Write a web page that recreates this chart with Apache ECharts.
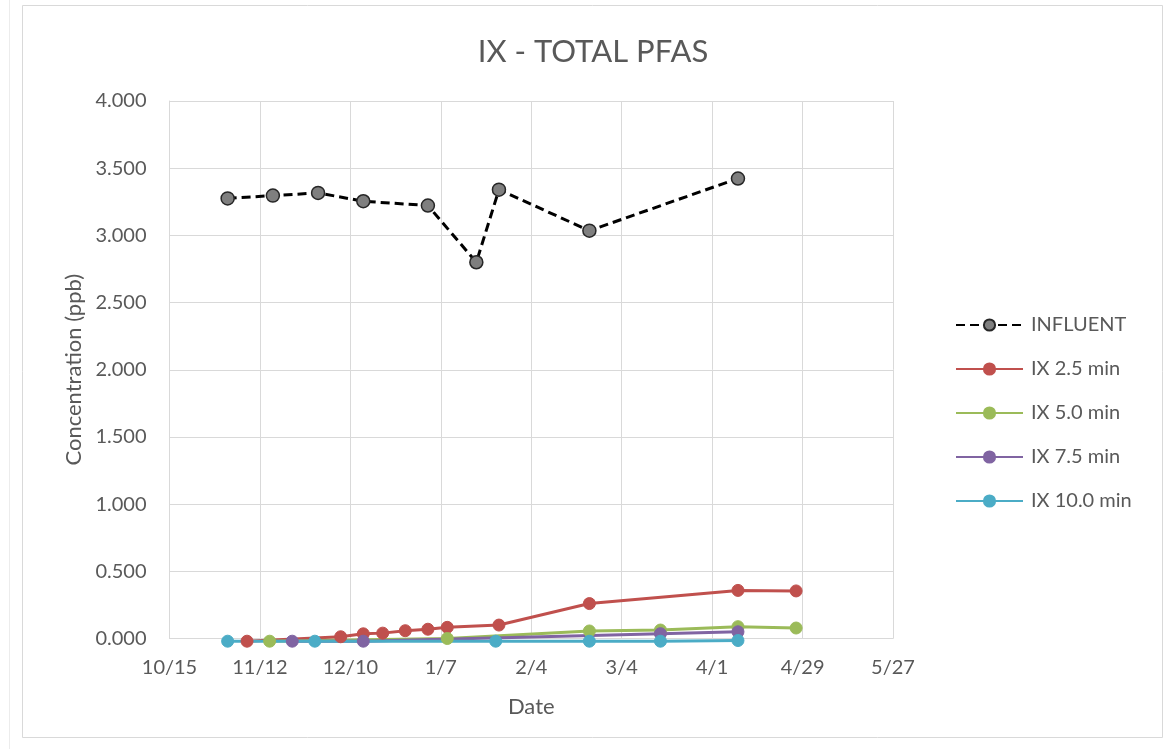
<!DOCTYPE html>
<html>
<head>
<meta charset="utf-8">
<title>IX - TOTAL PFAS</title>
<script src="https://cdn.jsdelivr.net/npm/echarts@6/dist/echarts.min.js"></script>
<style>
    html, body { margin: 0; padding: 0; background: #fff; }
    #chart { width: 1172px; height: 749px; }
</style>
</head>
<body>
<div id="chart"></div>
<script>
// axis starts 10/15, ticks every 28 days
const startDate = '2018-10-15';
const endDate = '2019-05-27';

const influentDates = ['2018-11-02', '2018-11-16', '2018-11-30', '2018-12-14', '2019-01-03',
                       '2019-01-18', '2019-01-25', '2019-02-22', '2019-04-09'];
const influentValues = [3.275, 3.296, 3.316, 3.254, 3.222, 2.800, 3.340, 3.035, 3.423];

const ix25Dates = ['2018-11-08', '2018-12-07', '2018-12-14', '2018-12-20', '2018-12-27',
                   '2019-01-03', '2019-01-09', '2019-01-25', '2019-02-22', '2019-04-09', '2019-04-27'];
const ix25Values = [-0.02, 0.013, 0.035, 0.04, 0.058, 0.069, 0.083, 0.10, 0.26, 0.358, 0.354];

const ix50Dates = ['2018-11-15', '2019-01-09', '2019-02-22', '2019-03-16', '2019-04-09', '2019-04-27'];
const ix50Values = [-0.02, 0.0, 0.056, 0.063, 0.088, 0.078];

const ix75Dates = ['2018-11-22', '2018-12-14', '2019-03-16', '2019-04-09'];
const ix75Values = [-0.02, -0.02, 0.036, 0.05];

const ix100Dates = ['2018-11-02', '2018-11-29', '2019-01-24', '2019-02-22', '2019-03-16', '2019-04-09'];
const ix100Values = [-0.02, -0.02, -0.02, -0.02, -0.02, -0.015];

const DAY = 86400000;
const t0 = Date.parse(startDate);

function toDay(d) {
    return Math.round((Date.parse(d) - t0) / DAY);
}

function pairs(dates, values) {
    return dates.map((d, i) => [toDay(d), values[i]]);
}

function dayLabel(v) {
    const dt = new Date(t0 + v * DAY);
    return (dt.getUTCMonth() + 1) + '/' + dt.getUTCDate();
}

const textColor = '#595959';
const gridColor = '#d9d9d9';
const font = 'Lato, "Open Sans", sans-serif';

function lineSeries(name, color, dates, values) {
    return {
        name: name,
        type: 'line',
        clip: false,
        data: pairs(dates, values),
        symbol: 'circle',
        symbolSize: 12,
        lineStyle: { color: color, width: 3 },
        itemStyle: { color: color, borderColor: color, borderWidth: 1 },
        emphasis: { disabled: true },
        animation: false
    };
}

const chart = echarts.init(document.getElementById('chart'));

const options = {
    backgroundColor: '#fff',
    textStyle: { fontFamily: font },
    title: {
        text: 'IX - TOTAL PFAS',
        left: 588,
        textAlign: 'center',
        top: 31,
        textStyle: { fontSize: 31, fontWeight: 'normal', color: textColor, fontFamily: font }
    },
    graphic: [
        {
            type: 'rect',
            shape: { x: 22.5, y: 5.5, width: 1140, height: 732 },
            style: { fill: 'none', stroke: gridColor, lineWidth: 1 },
            silent: true
        },
        {
            type: 'line',
            shape: { x1: 9.5, y1: 0, x2: 9.5, y2: 749 },
            style: { stroke: '#ececec', lineWidth: 1 },
            silent: true
        }
    ],
    legend: {
        orient: 'vertical',
        left: 950,
        top: 310,
        itemWidth: 67,
        itemHeight: 14,
        itemGap: 24,
        textStyle: { fontSize: 20, color: textColor, fontFamily: font, padding: [0, 0, 0, 3] },
        data: ['INFLUENT', 'IX 2.5 min', 'IX 5.0 min', 'IX 7.5 min', 'IX 10.0 min']
    },
    grid: {
        left: 169.5,
        right: 279,
        top: 101,
        bottom: 110.5,
        containLabel: false
    },
    xAxis: {
        type: 'value',
        min: 0,
        max: toDay(endDate),
        interval: 28,
        name: 'Date',
        nameLocation: 'middle',
        nameGap: 57,
        nameTextStyle: { fontSize: 22, color: textColor, fontFamily: font },
        axisLine: { show: true, onZero: false, lineStyle: { color: gridColor, width: 1 } },
        axisTick: { show: false },
        axisLabel: {
            margin: 19,
            fontSize: 20,
            color: textColor,
            fontFamily: font,
            formatter: dayLabel
        },
        splitLine: { show: true, lineStyle: { color: gridColor, width: 1 } }
    },
    yAxis: {
        type: 'value',
        min: 0,
        max: 4,
        interval: 0.5,
        name: 'Concentration (ppb)',
        nameLocation: 'middle',
        nameGap: 85,
        nameTextStyle: { fontSize: 22, color: textColor, fontFamily: font },
        axisLine: { show: true, lineStyle: { color: gridColor, width: 1 } },
        axisTick: { show: false },
        axisLabel: {
            margin: 23,
            fontSize: 20,
            color: textColor,
            fontFamily: font,
            formatter: v => v.toFixed(3)
        },
        splitLine: { show: true, lineStyle: { color: gridColor, width: 1 } }
    },
    series: [
        {
            name: 'INFLUENT',
            type: 'line',
            clip: false,
            data: pairs(influentDates, influentValues),
            symbol: 'circle',
            symbolSize: 13,
            lineStyle: { color: '#000', width: 3, type: [9, 5] },
            itemStyle: { color: '#7f7f7f', borderColor: '#262626', borderWidth: 1.5 },
            emphasis: { disabled: true },
            animation: false
        },
        lineSeries('IX 2.5 min', '#c0504d', ix25Dates, ix25Values),
        lineSeries('IX 5.0 min', '#9bbb59', ix50Dates, ix50Values),
        lineSeries('IX 7.5 min', '#8064a2', ix75Dates, ix75Values),
        lineSeries('IX 10.0 min', '#4bacc6', ix100Dates, ix100Values)
    ]
};

chart.setOption(options);
window.addEventListener('resize', () => {
    chart.resize();
});
</script>
</body>
</html>
